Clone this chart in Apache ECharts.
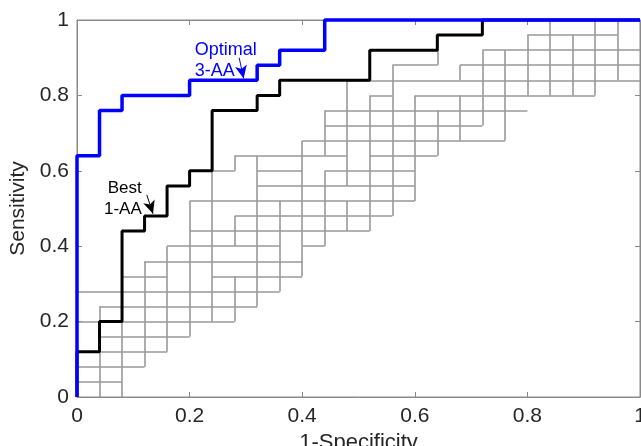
<!DOCTYPE html>
<html>
<head>
<meta charset="utf-8">
<script src="https://cdn.jsdelivr.net/npm/echarts@6/dist/echarts.min.js"></script>
<style>
  html, body { margin: 0; padding: 0; background: #fff; }
  #chart-container { width: 641px; height: 446px; }
</style>
</head>
<body>
<div id="chart-container"></div>
<script>
// ROC operating points (1-specificity, sensitivity)
const optimalFpr = [0, 0, 0.04, 0.08, 0.2, 0.32, 0.36, 0.44, 1];
const optimalTpr = [0, 0.64, 0.76, 0.8, 0.84, 0.88, 0.92, 1, 1];
const bestFpr = [0, 0, 0.04, 0.08, 0.12, 0.16, 0.2, 0.24, 0.32, 0.36, 0.52, 0.64, 0.72, 1];
const bestTpr = [0, 0.12, 0.2, 0.44, 0.48, 0.56, 0.6, 0.76, 0.8, 0.84, 0.92, 0.96, 1, 1];

// other single-AA ROC curves, read as horizontal runs [tpr, fprFrom, fprTo]
const grayRows = [
  [0.04, 0, 0.08], [0.08, 0, 0.12], [0.12, 0, 0.16], [0.16, 0.04, 0.2],
  [0.2, 0, 0.04], [0.2, 0.08, 0.28], [0.24, 0.04, 0.32], [0.28, 0, 0.36],
  [0.32, 0.08, 0.16], [0.32, 0.24, 0.4], [0.36, 0.12, 0.4],
  [0.4, 0.16, 0.36], [0.4, 0.4, 0.44], [0.44, 0.2, 0.52], [0.48, 0.28, 0.56],
  [0.52, 0.2, 0.6], [0.56, 0.32, 0.6],
  [0.6, 0.24, 0.28], [0.6, 0.32, 0.4], [0.6, 0.44, 0.6],
  [0.64, 0.28, 0.48], [0.64, 0.52, 0.64], [0.68, 0.4, 0.76],
  [0.72, 0.44, 0.72], [0.76, 0.44, 0.8],
  [0.8, 0.52, 0.56], [0.8, 0.6, 0.92], [0.84, 0.48, 1],
  [0.88, 0.56, 0.64], [0.88, 0.68, 1], [0.92, 0.72, 1], [0.96, 0.8, 0.96]
];
// ...and vertical runs [fpr, tprFrom, tprTo]
const grayCols = [
  [0.04, 0, 0.12], [0.04, 0.2, 0.24], [0.08, 0, 0.2], [0.12, 0.08, 0.36],
  [0.16, 0.12, 0.4], [0.2, 0.16, 0.52], [0.24, 0.2, 0.6],
  [0.28, 0.2, 0.32], [0.28, 0.4, 0.48], [0.28, 0.6, 0.64],
  [0.32, 0.24, 0.64], [0.36, 0.28, 0.52], [0.4, 0.32, 0.68],
  [0.44, 0.4, 0.6], [0.44, 0.64, 0.76],
  [0.48, 0.44, 0.52], [0.48, 0.56, 0.84], [0.52, 0.44, 0.8],
  [0.56, 0.48, 0.88], [0.6, 0.52, 0.8],
  [0.64, 0.64, 0.76], [0.64, 0.88, 0.92],
  [0.68, 0.68, 0.8], [0.68, 0.84, 0.88],
  [0.72, 0.72, 0.92], [0.76, 0.68, 0.92], [0.8, 0.8, 0.96],
  [0.84, 0.8, 1], [0.88, 0.8, 0.96], [0.92, 0.8, 1], [0.96, 0.84, 1]
];

let dom = document.getElementById('chart-container');
let myChart = echarts.init(dom, null, { renderer: 'canvas' });

const font = '"Liberation Sans", Arial, sans-serif';
const axisGray = '#8a8a8a';

let graySegs = [];
grayRows.forEach(r => graySegs.push({ coords: [[r[1], r[0]], [r[2], r[0]]] }));
grayCols.forEach(c => graySegs.push({ coords: [[c[0], c[1]], [c[0], c[2]]] }));

function zip(xs, ys) {
  return xs.map((x, i) => [x, ys[i]]);
}

function axisBase(pos, showLabel) {
  return {
    type: 'value',
    position: pos,
    min: 0,
    max: 1,
    interval: 0.2,
    axisLine: { show: true, onZero: false, lineStyle: { color: axisGray, width: 1 } },
    axisTick: { show: true, inside: true, length: 5, lineStyle: { color: axisGray } },
    axisLabel: {
      show: showLabel,
      fontSize: 21,
      fontFamily: font,
      color: '#262626',
      showMinLabel: true,
      showMaxLabel: true,
      hideOverlap: false
    },
    splitLine: { show: false }
  };
}

let xMain = axisBase('bottom', true);
xMain.axisLabel.margin = 9;
xMain.name = '1-Specificity';
xMain.nameLocation = 'middle';
xMain.nameGap = 26;
xMain.nameTextStyle = { fontSize: 22, fontFamily: font, color: '#262626' };

let yMain = axisBase('left', true);
yMain.axisLabel.margin = 8;
yMain.name = 'Sensitivity';
yMain.nameLocation = 'middle';
yMain.nameGap = 43;
yMain.nameTextStyle = { fontSize: 21, fontFamily: font, color: '#262626' };

function textPoint(x, y, text, color, side, size) {
  return {
    coord: [x, y],
    symbol: 'circle',
    symbolSize: 0,
    itemStyle: { color: 'rgba(0,0,0,0)' },
    label: {
      show: true,
      formatter: text,
      position: side,
      distance: 0,
      color: color,
      fontSize: size,
      fontFamily: font
    }
  };
}

let option = {
  animation: false,
  grid: {
    left: 77,
    right: 1,
    top: 20,
    bottom: 49,
    show: true,
    borderColor: axisGray,
    borderWidth: 1,
    outerBoundsMode: 'none'
  },
  xAxis: [xMain, axisBase('top', false)],
  yAxis: [yMain, axisBase('right', false)],
  series: [
    {
      type: 'lines',
      coordinateSystem: 'cartesian2d',
      polyline: false,
      silent: true,
      z: 1,
      lineStyle: { color: '#999999', width: 1.6, opacity: 1, curveness: 0 },
      data: graySegs
    },
    {
      type: 'line',
      name: 'Best 1-AA',
      step: 'end',
      showSymbol: false,
      symbol: 'none',
      clip: false,
      z: 3,
      lineStyle: { color: '#000000', width: 3 },
      data: zip(bestFpr, bestTpr),
      markPoint: {
        silent: true,
        data: [
          textPoint(0.115, 0.554, 'Best', '#000000', 'left', 17),
          textPoint(0.115, 0.497, '1-AA', '#000000', 'left', 17)
        ]
      },
      markLine: {
        silent: true,
        symbol: ['none', 'arrow'],
        symbolSize: [9, 13],
        label: { show: false },
        lineStyle: { color: '#000000', width: 1, type: 'solid' },
        data: [[{ coord: [0.124, 0.536] }, { coord: [0.135, 0.486] }]]
      }
    },
    {
      type: 'line',
      name: 'Optimal 3-AA',
      step: 'end',
      showSymbol: false,
      symbol: 'none',
      clip: false,
      z: 4,
      lineStyle: { color: '#0000ff', width: 3.5 },
      data: zip(optimalFpr, optimalTpr),
      markPoint: {
        silent: true,
        data: [
          textPoint(0.209, 0.921, 'Optimal', '#0000ff', 'right', 18),
          textPoint(0.209, 0.864, '3-AA', '#0000ff', 'right', 18)
        ]
      },
      markLine: {
        silent: true,
        symbol: ['none', 'arrow'],
        symbolSize: [9, 13],
        label: { show: false },
        lineStyle: { color: '#0000ff', width: 1, type: 'solid' },
        data: [[{ coord: [0.288, 0.9] }, { coord: [0.296, 0.845] }]]
      }
    }
  ]
};

if (option && typeof option === 'object') {
  myChart.setOption(option);
}

window.addEventListener('resize', myChart.resize);
</script>
</body>
</html>
